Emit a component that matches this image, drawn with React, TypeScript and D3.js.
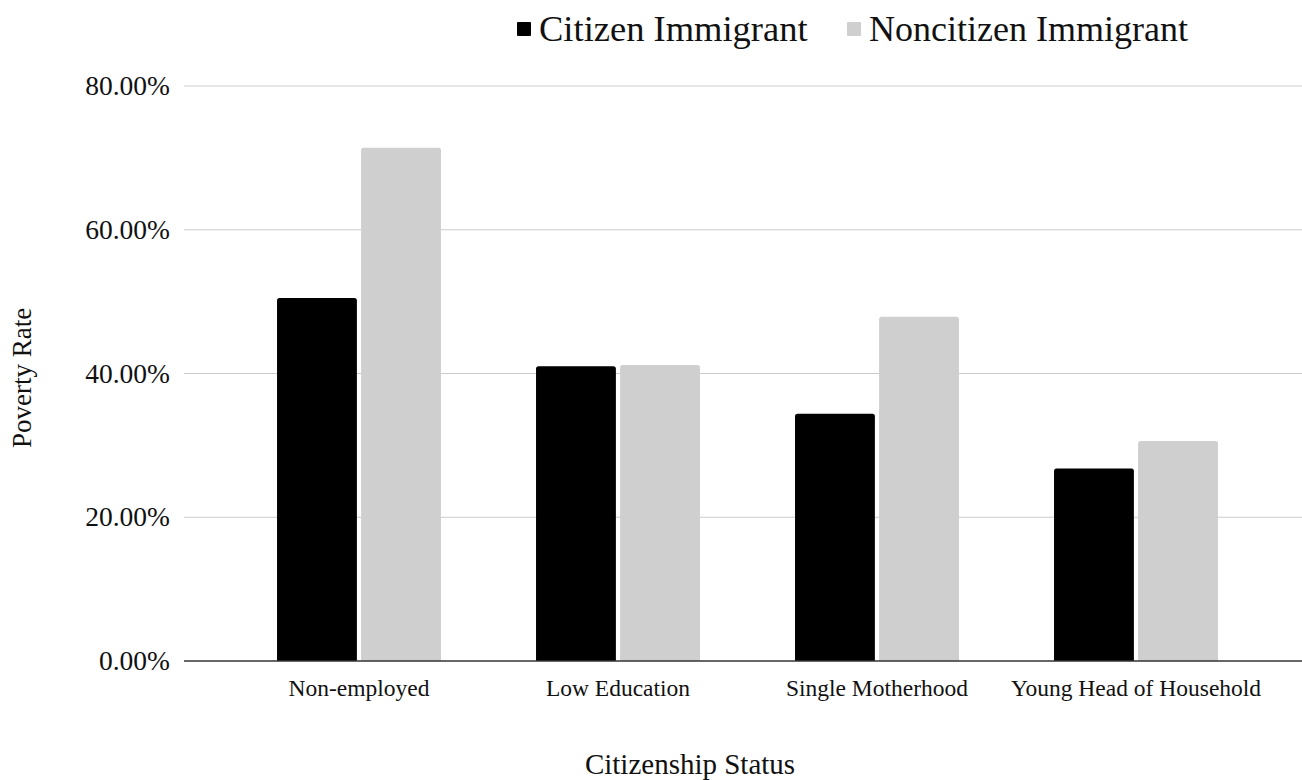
import React from "react";
import * as d3 from "d3";

const categories = ["Non-employed", "Low Education", "Single Motherhood", "Young Head of Household"];
const seriesNames = ["Citizen Immigrant", "Noncitizen Immigrant"];
const citizenValues = [0.505, 0.41, 0.344, 0.268];
const noncitizenValues = [0.714, 0.412, 0.479, 0.306];
const yTicks = [0, 0.2, 0.4, 0.6, 0.8];
const seriesColors = ["#000000", "#cfcfcf"];

const W = 1302;
const H = 780;
const FONT = "'Liberation Serif', 'Times New Roman', serif";

function topRoundedBar(x: number, y: number, w: number, h: number, r: number) {
  const rr = Math.min(r, h, w / 2);
  return `M${x},${y + h}V${y + rr}Q${x},${y} ${x + rr},${y}H${x + w - rr}Q${x + w},${y} ${x + w},${y + rr}V${y + h}Z`;
}

export default function App() {
  const plotLeft = 184;
  const plotRight = W;
  const y = d3.scaleLinear().domain([0, 0.8]).range([661, 86]);
  const x0 = d3
    .scaleBand<string>()
    .domain(categories)
    .range([229.5, 1265.5])
    .paddingInner(0.367)
    .paddingOuter(0.1835);
  const x1 = d3.scaleBand<string>().domain(seriesNames).range([0, x0.bandwidth()]).paddingInner(0.05);
  const fmt = d3.format(".2%");
  const seriesValues = [citizenValues, noncitizenValues];

  return (
    <svg
      width={W}
      height={H}
      style={{ position: "absolute", left: 0, top: 0, background: "#fff" }}
      fontFamily={FONT}
    >
      <rect width={W} height={H} fill="#fff" />
      {/* horizontal gridlines */}
      {yTicks.slice(1).map((t) => (
        <line key={t} x1={plotLeft} x2={plotRight} y1={y(t)} y2={y(t)} stroke="#cccccc" strokeWidth={1} />
      ))}
      {/* y tick labels */}
      {yTicks.map((t) => (
        <text key={t} x={170} y={y(t) + 9} textAnchor="end" fontSize={27.5} fill="#111">
          {fmt(t)}
        </text>
      ))}
      {/* bars */}
      {categories.map((c, i) =>
        seriesNames.map((s, j) => {
          const v = seriesValues[j][i];
          const bx = (x0(c) ?? 0) + (x1(s) ?? 0);
          const by = y(v);
          return (
            <path
              key={c + s}
              d={topRoundedBar(bx, by, x1.bandwidth(), y(0) - by, 2.5)}
              fill={seriesColors[j]}
            />
          );
        })
      )}
      {/* baseline */}
      <line x1={plotLeft} x2={plotRight} y1={y(0)} y2={y(0)} stroke="#333" strokeWidth={1.4} />
      {/* category labels */}
      {categories.map((c) => (
        <text
          key={c}
          x={(x0(c) ?? 0) + x0.bandwidth() / 2}
          y={696}
          textAnchor="middle"
          fontSize={23.5}
          fill="#111"
        >
          {c}
        </text>
      ))}
      {/* axis titles */}
      <text x={690} y={774} textAnchor="middle" fontSize={29} fill="#111">
        Citizenship Status
      </text>
      <text
        transform={`translate(31,${378}) rotate(-90)`}
        textAnchor="middle"
        fontSize={27}
        fill="#111"
      >
        Poverty Rate
      </text>
      {/* legend */}
      <g>
        <rect x={517} y={22} width={14} height={14} fill={seriesColors[0]} rx={1} />
        <text x={539} y={41} fontSize={36.5} fill="#111">
          {seriesNames[0]}
        </text>
        <rect x={847} y={22} width={14} height={14} fill={seriesColors[1]} rx={1} />
        <text x={869} y={41} fontSize={36} fill="#111">
          {seriesNames[1]}
        </text>
      </g>
    </svg>
  );
}
